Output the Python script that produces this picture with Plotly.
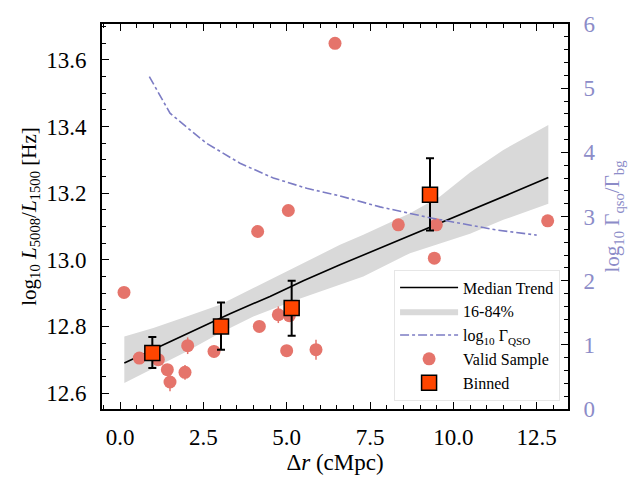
import plotly.graph_objects as go

# ---- data ----
valid_x = [0.12, 0.58, 1.15, 1.42, 1.50, 1.95, 2.03, 2.82, 4.13, 4.18, 4.75, 5.08, 5.00, 5.05, 5.88, 6.45, 8.35, 9.43, 9.49, 12.83]
valid_y = [12.902, 12.705, 12.700, 12.670, 12.633, 12.662, 12.742, 12.725, 13.085, 12.800, 12.835, 12.832, 12.727, 13.148, 12.730, 13.650, 13.105, 13.005, 13.105, 13.117]
valid_err = [0.012, 0.012, 0.015, 0.015, 0.028, 0.022, 0.025, 0.018, 0.012, 0.012, 0.025, 0.015, 0.012, 0.012, 0.030, 0.010, 0.012, 0.012, 0.015, 0.012]

bin_x = [0.97, 3.03, 5.15, 9.30]
bin_y = [12.720, 12.800, 12.855, 13.195]
bin_err_plus = [0.048, 0.072, 0.082, 0.110]
bin_err_minus = [0.045, 0.070, 0.083, 0.107]

trend_x = [0.13, 1.0, 2.0, 3.3, 4.5, 5.5, 6.6, 8.0, 9.3, 10.5, 11.7, 12.85]
trend_y = [12.690, 12.730, 12.778, 12.838, 12.890, 12.937, 12.985, 13.043, 13.098, 13.148, 13.198, 13.247]

band_x = [0.13, 1.0, 2.0, 3.0, 4.0, 5.3, 6.6, 7.3, 8.7, 9.6, 10.5, 11.5, 12.85]
band_lo = [12.630, 12.675, 12.725, 12.780, 12.830, 12.880, 12.925, 12.950, 13.020, 13.050, 13.078, 13.120, 13.168]
band_hi = [12.770, 12.795, 12.830, 12.865, 12.915, 12.980, 13.045, 13.075, 13.140, 13.190, 13.262, 13.330, 13.405]

gamma_x = [0.88, 1.5, 2.1, 2.6, 3.6, 4.6, 5.6, 6.6, 7.8, 9.3, 11.3, 12.5]
gamma_y = [5.18, 4.61, 4.35, 4.14, 3.83, 3.60, 3.44, 3.32, 3.15, 2.98, 2.79, 2.71]

x_ticks = [0, 2.5, 5, 7.5, 10, 12.5]
y_ticks = [12.6, 12.8, 13.0, 13.2, 13.4, 13.6]
y2_ticks = [0, 1, 2, 3, 4, 5, 6]

# ---- styles ----
FONT = "Liberation Serif"
PT_COLOR = "#E5746B"
BIN_COLOR = "#FF4500"
GAMMA_COLOR = "#7C7CC4"
GAMMA_TEXT = "#8C8CC8"
BAND_COLOR = "#D9D9D9"

fig = go.Figure()

fig.add_trace(go.Scatter(
    x=band_x + band_x[::-1], y=band_hi + band_lo[::-1],
    fill="toself", fillcolor=BAND_COLOR, line=dict(width=0),
    mode="lines", name="16-84%", legendrank=2, hoverinfo="skip"))

fig.add_trace(go.Scatter(
    x=trend_x, y=trend_y, mode="lines", line=dict(color="black", width=1.6),
    name="Median Trend", legendrank=1))

fig.add_trace(go.Scatter(
    x=valid_x, y=valid_y, mode="markers",
    marker=dict(color=PT_COLOR, size=13, line=dict(width=0)),
    error_y=dict(type="data", array=valid_err, color=PT_COLOR, thickness=1.5, width=0),
    name="Valid Sample", legendrank=4))

fig.add_trace(go.Scatter(
    x=bin_x, y=bin_y, mode="markers",
    marker=dict(color=BIN_COLOR, size=15, symbol="square", line=dict(color="black", width=1.5)),
    error_y=dict(type="data", symmetric=False, array=bin_err_plus, arrayminus=bin_err_minus,
                 color="black", thickness=2, width=4),
    name="Binned", legendrank=5))

fig.add_trace(go.Scatter(
    x=gamma_x, y=gamma_y, mode="lines", yaxis="y2",
    line=dict(color=GAMMA_COLOR, width=1.6, dash="dashdot"),
    name="log<sub>10</sub> Γ<sub>QSO</sub>", legendrank=3))

tickfont = dict(family=FONT, size=23, color="black")

fig.update_layout(
    width=642, height=492,
    margin=dict(l=102, r=74, t=24, b=83, autoexpand=False),
    paper_bgcolor="white", plot_bgcolor="white",
    font=dict(family=FONT, color="black"),
    xaxis=dict(
        range=[-0.54, 13.44], tickvals=x_ticks, tickformat=".1f",
        ticks="inside", ticklen=7, tickwidth=1.3, tickcolor="black",
        showline=True, linecolor="black", linewidth=2, mirror="ticks",
        showgrid=False, zeroline=False, tickfont=tickfont, ticklabelstandoff=6,
        minor=dict(ticks="inside", dtick=0.5, ticklen=4, tickwidth=1, tickcolor="black"),
        title=dict(text="Δ<i>r</i> (cMpc)", font=dict(family=FONT, size=23), standoff=4),
    ),
    yaxis=dict(
        range=[12.552, 13.708], tickvals=y_ticks, tickformat=".1f",
        ticks="inside", ticklen=7, tickwidth=1.3, tickcolor="black",
        showline=True, linecolor="black", linewidth=2, mirror=False,
        showgrid=False, zeroline=False, tickfont=tickfont, ticklabelstandoff=9,
        minor=dict(ticks="inside", dtick=0.05, ticklen=4, tickwidth=1, tickcolor="black"),
        title=dict(text="log<sub>10</sub> <i>L</i><sub>5008</sub>/<i>L</i><sub>1500</sub> [Hz]",
                   font=dict(family=FONT, size=21), standoff=4),
    ),
    yaxis2=dict(
        overlaying="y", side="right", anchor="x",
        range=[0, 6], tickvals=y2_ticks,
        ticks="inside", ticklen=7, tickwidth=1.3, tickcolor="black",
        showline=True, linecolor="black", linewidth=2,
        showgrid=False, zeroline=False, ticklabelstandoff=9,
        tickfont=dict(family=FONT, size=23, color=GAMMA_TEXT),
        minor=dict(ticks="inside", dtick=0.2, ticklen=4, tickwidth=1, tickcolor="black"),
        title=dict(text="log<sub>10</sub> Γ<sub>qso</sub>/Γ<sub>bg</sub>",
                   font=dict(family=FONT, size=21, color=GAMMA_TEXT), standoff=10),
    ),
    legend=dict(
        x=0.983, y=0.022, xanchor="right", yanchor="bottom",
        bgcolor="rgba(255,255,255,0.85)", bordercolor="#E6E6E6", borderwidth=1,
        font=dict(family=FONT, size=16, color="black"),
        tracegroupgap=0, itemwidth=58,
    ),
    showlegend=True,
)

fig.write_html("out.html")
